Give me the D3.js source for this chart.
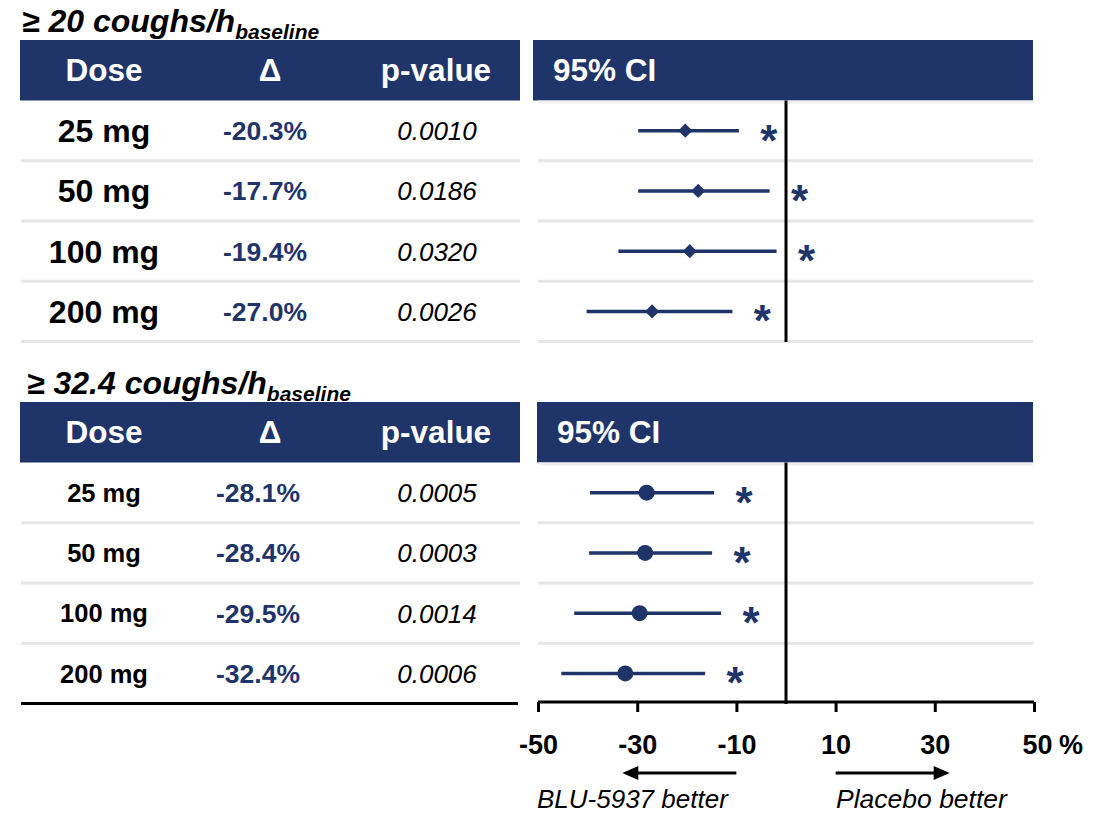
<!DOCTYPE html>
<html>
<head>
<meta charset="utf-8">
<script src="https://cdn.jsdelivr.net/npm/d3@7"></script>
<style>
  html, body { margin: 0; padding: 0; background: #ffffff; }
  svg { display: block; }
  text { font-family: "Liberation Sans", Arial, Helvetica, sans-serif; }
</style>
</head>
<body>
<svg id="chart" width="1099" height="813"></svg>
<script>
// ---- data ----
const doses = ["25 mg", "50 mg", "100 mg", "200 mg"];

// Subgroup: >= 20 coughs/h at baseline
const delta20 = [-20.3, -17.7, -19.4, -27.0];
const pValue20 = ["0.0010", "0.0186", "0.0320", "0.0026"];
const ciLow20 = [-29.8, -29.8, -33.8, -40.2];
const ciHigh20 = [-9.5, -3.3, -1.9, -10.8];

// Subgroup: >= 32.4 coughs/h at baseline
const delta32 = [-28.1, -28.4, -29.5, -32.4];
const pValue32 = ["0.0005", "0.0003", "0.0014", "0.0006"];
const ciLow32 = [-39.5, -39.7, -42.7, -45.3];
const ciHigh32 = [-14.5, -14.9, -13.1, -16.3];

const axisTicks = [-50, -30, -10, 10, 30, 50];
const headers = ["Dose", "Δ", "p-value"];

// ---- styling ----
const NAVY = "#1f3468";
const GRID = "#e6e6e6";
const FONT = '"Liberation Sans", Arial, Helvetica, sans-serif';

const svg = d3.select("#chart");
svg.append("rect").attr("width", 1099).attr("height", 813).attr("fill", "#fff");

// shared horizontal scale for both forest plots
const x = d3.scaleLinear().domain([-50, 50]).range([538, 1034]);

const panels = [
  {
    threshold: "20", top: 40, titleX: 22,
    delta: delta20, p: pValue20, lo: ciLow20, hi: ciHigh20,
    marker: "diamond", doseSize: 32, deltaX: 265, ciHeadX: 533, lastBlack: false
  },
  {
    threshold: "32.4", top: 402, titleX: 27,
    delta: delta32, p: pValue32, lo: ciLow32, hi: ciHigh32,
    marker: "circle", doseSize: 25.5, deltaX: 258, ciHeadX: 537, lastBlack: true
  }
];

const headerH = 60.5;
const tableLeft = 20, tableRight = 520;

panels.forEach(pn => {
  const g = svg.append("g");
  const bodyTop = pn.top + headerH;
  const y = d3.scaleBand().domain(doses).range([bodyTop, bodyTop + 241]);

  // title with subscript
  const t = g.append("text")
    .attr("x", pn.titleX).attr("y", pn.top - 8)
    .attr("font-size", 32).attr("font-weight", "bold").attr("font-style", "italic")
    .attr("fill", "#000");
  t.append("tspan").text("≥ " + pn.threshold + " coughs/h");
  t.append("tspan").attr("font-size", 21).attr("dy", 7).text("baseline");

  // header bars
  g.append("rect").attr("x", tableLeft).attr("y", pn.top)
    .attr("width", tableRight - tableLeft).attr("height", headerH).attr("fill", NAVY);
  g.append("rect").attr("x", pn.ciHeadX).attr("y", pn.top)
    .attr("width", 1033 - pn.ciHeadX).attr("height", headerH).attr("fill", NAVY);

  const colX = [104, 270, 436];
  g.selectAll(".hdr").data(headers).join("text")
    .attr("x", (d, i) => colX[i]).attr("y", pn.top + headerH / 2 + 11)
    .attr("text-anchor", "middle").attr("font-size", 31.5).attr("font-weight", "bold")
    .attr("fill", "#fff").text(d => d);
  g.append("text").attr("x", pn.ciHeadX + 20).attr("y", pn.top + headerH / 2 + 11)
    .attr("font-size", 31.5).attr("font-weight", "bold").attr("fill", "#fff").text("95% CI");

  // faint line under the CI header
  g.append("line").attr("x1", 538).attr("x2", 1033)
    .attr("y1", bodyTop + 1.5).attr("y2", bodyTop + 1.5)
    .attr("stroke", "#f0f0f0").attr("stroke-width", 3);

  // row separators
  doses.forEach((d, i) => {
    const yy = y(d) + y.bandwidth();
    const black = pn.lastBlack && i === doses.length - 1;
    g.append("line").attr("x1", tableLeft + 1).attr("x2", black ? 518 : tableRight)
      .attr("y1", yy).attr("y2", yy)
      .attr("stroke", black ? "#000" : GRID).attr("stroke-width", 3);
    if (!black) {
      g.append("line").attr("x1", 538).attr("x2", 1033)
        .attr("y1", yy).attr("y2", yy)
        .attr("stroke", GRID).attr("stroke-width", 3);
    }
  });

  const cy = d => y(d) + y.bandwidth() / 2;

  // table cells
  g.selectAll(".dose").data(doses).join("text")
    .attr("x", 104).attr("y", d => cy(d) + pn.doseSize * 0.36)
    .attr("text-anchor", "middle").attr("font-size", pn.doseSize).attr("font-weight", "bold")
    .attr("fill", "#000").text(d => d);
  g.selectAll(".delta").data(pn.delta).join("text")
    .attr("x", pn.deltaX).attr("y", (d, i) => cy(doses[i]) + 9.5)
    .attr("text-anchor", "middle").attr("font-size", 26.5).attr("font-weight", "bold")
    .attr("fill", NAVY).text(d => d.toFixed(1) + "%");
  g.selectAll(".pv").data(pn.p).join("text")
    .attr("x", 437).attr("y", (d, i) => cy(doses[i]) + 9.5)
    .attr("text-anchor", "middle").attr("font-size", 26).attr("font-style", "italic")
    .attr("fill", "#000").text(d => d);

  // zero reference line
  g.append("line").attr("x1", x(0)).attr("x2", x(0))
    .attr("y1", bodyTop).attr("y2", bodyTop + 241.5)
    .attr("stroke", "#000").attr("stroke-width", 3);

  // confidence intervals
  g.selectAll(".ci").data(doses).join("line")
    .attr("x1", (d, i) => x(pn.lo[i])).attr("x2", (d, i) => x(pn.hi[i]))
    .attr("y1", d => cy(d)).attr("y2", d => cy(d))
    .attr("stroke", NAVY).attr("stroke-width", 3.5);

  // point estimates
  if (pn.marker === "diamond") {
    const sym = d3.symbol().type(d3.symbolSquare).size(100);
    g.selectAll(".pt").data(pn.delta).join("path")
      .attr("d", sym)
      .attr("transform", (d, i) => `translate(${x(d)},${cy(doses[i])}) rotate(45)`)
      .attr("fill", NAVY);
  } else {
    g.selectAll(".pt").data(pn.delta).join("circle")
      .attr("cx", d => x(d)).attr("cy", (d, i) => cy(doses[i])).attr("r", 8)
      .attr("fill", NAVY);
  }

  // significance markers
  g.selectAll(".star").data(pn.hi).join("text")
    .attr("x", d => x(d) + 30).attr("y", (d, i) => cy(doses[i]) + 25)
    .attr("text-anchor", "middle").attr("font-size", 44).attr("font-weight", "bold")
    .attr("fill", NAVY).text("*");
});

// ---- x axis ----
const axisY = 702;
const axis = d3.axisBottom(x).tickValues(axisTicks).tickSize(10).tickSizeOuter(0).tickPadding(23)
  .tickFormat(d => String(d));
const ag = svg.append("g").attr("transform", `translate(0,${axisY})`).call(axis);
ag.select(".domain").attr("stroke", "#000").attr("stroke-width", 3)
  .attr("d", `M${x(-50)},0H${x(50)}`);
ag.selectAll(".tick line").attr("stroke", "#000").attr("stroke-width", 3);
ag.selectAll(".tick text").attr("font-family", FONT).attr("font-size", 27)
  .attr("font-weight", "bold").attr("fill", "#000");
ag.selectAll(".tick").filter(d => d === 50).select("text").attr("dx", 3);
svg.append("text").attr("x", x(50) + 25).attr("y", axisY + 10 + 23 + 27 * 0.71)
  .attr("font-size", 27).attr("font-weight", "bold").attr("fill", "#000").text("%");

// ---- direction arrows ----
const arrowY = 773;
function arrow(from, to) {
  const x1 = x(from), x2 = x(to);
  const dir = Math.sign(x2 - x1);
  svg.append("line").attr("x1", x1).attr("x2", x2 - dir * 14)
    .attr("y1", arrowY).attr("y2", arrowY)
    .attr("stroke", "#000").attr("stroke-width", 3);
  svg.append("path")
    .attr("d", `M${x2},${arrowY}L${x2 - dir * 16},${arrowY - 7}L${x2 - dir * 16},${arrowY + 7}Z`)
    .attr("fill", "#000");
}
arrow(-10, -33);
arrow(10, 33);

svg.append("text").attr("x", 537).attr("y", 808)
  .attr("font-size", 26).attr("font-style", "italic").attr("fill", "#000").text("BLU-5937 better");
svg.append("text").attr("x", 836).attr("y", 808)
  .attr("font-size", 26.5).attr("font-style", "italic").attr("fill", "#000").text("Placebo better");
</script>
</body>
</html>
